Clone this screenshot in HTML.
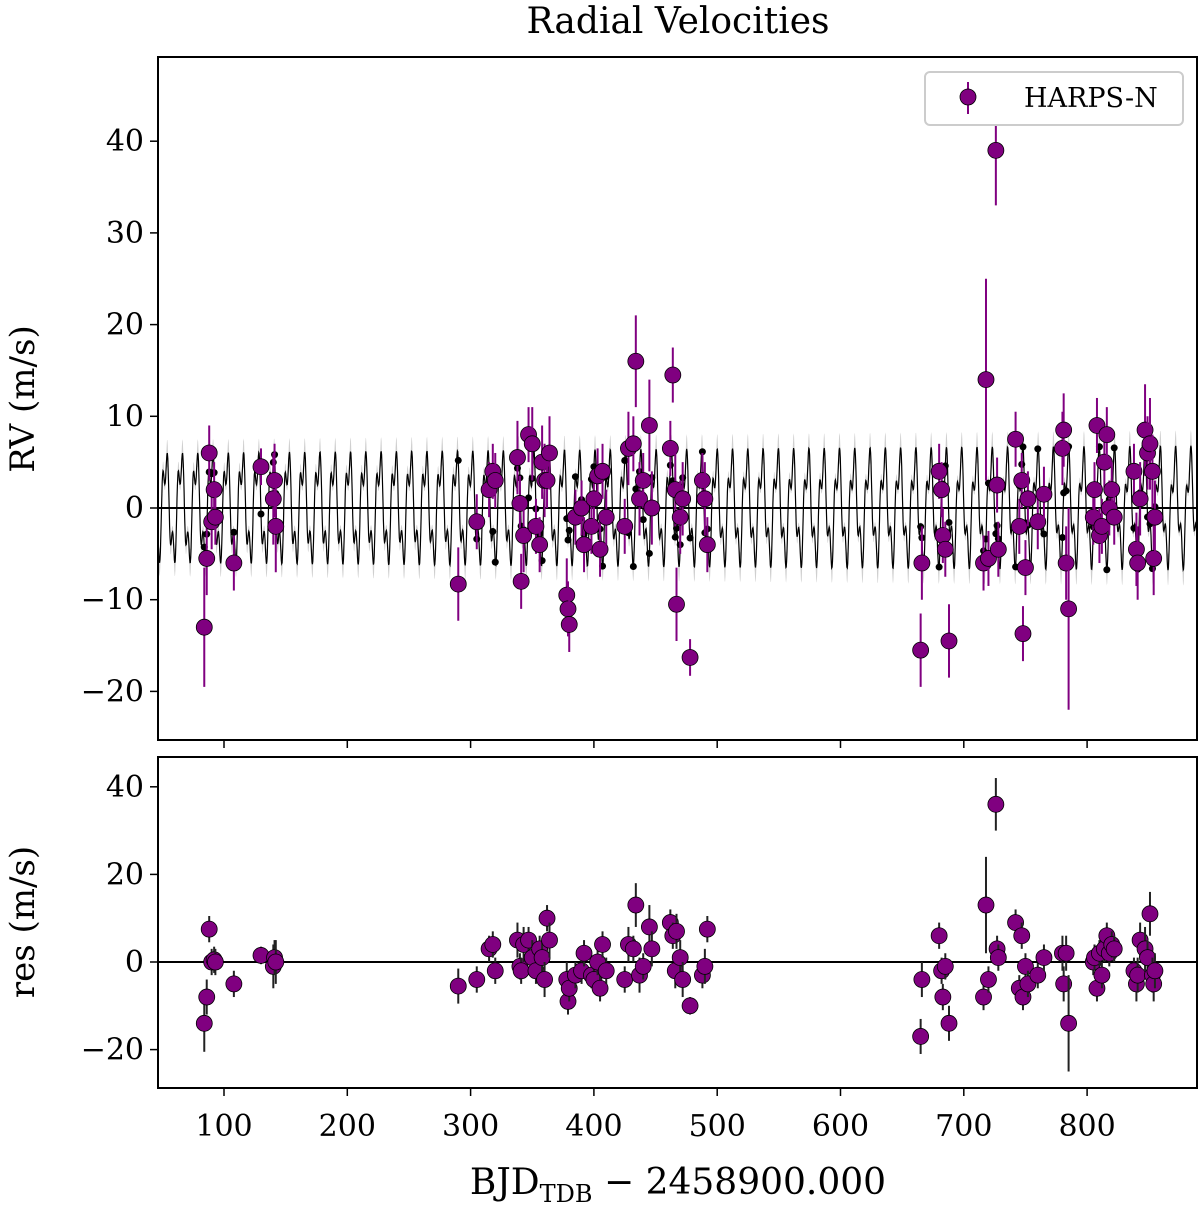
<!DOCTYPE html>
<html><head><meta charset="utf-8"><style>
html,body{margin:0;padding:0;background:#fff}
svg{display:block;font-family:"DejaVu Serif","Liberation Serif",serif}
</style></head><body>
<svg id="c" width="1200" height="1205" xmlns="http://www.w3.org/2000/svg"></svg>
<script>
const times=[84,86,88,90,92,93,108,130,140,141,142,290,305,315,318,320,338,340,341,343,347,350,353,356,358,360,362,364,378,379,380,385,390,392,398,400,403,405,407,410,425,428,432,434,437,440,445,447,462,464,466,467,470,472,478,488,490,492,665,666,680,682,683,685,688,716,718,720,726,727,728,742,745,747,748,750,752,760,765,780,781,783,785,805,806,808,810,812,814,816,818,820,822,838,840,841,843,847,849,851,853,854,855];
const rvs=[-13,-5.5,6,-1.5,2,-1,-6,4.5,1,3,-2,-8.3,-1.5,2,4,3,5.5,0.5,-8,-3,8,7,-2,-4,5,3,3,6,-9.5,-11,-12.7,-1,0,-4,-2,1,3.5,-4.5,4,-1,-2,6.5,7,16,1,3,9,0,6.5,14.5,2,-10.5,-1,1,-16.3,3,1,-4,-15.5,-6,4,2,-3,-4.5,-14.5,-6,14,-5.5,39,2.5,-4.5,7.5,-2,3,-13.7,-6.5,1,-1.5,1.5,6.5,8.5,-6,-11,-1,2,9,-3,-2,5,8,0,2,-1,4,-4.5,-6,1,8.5,6,7,4,-5.5,-1];
const errs=[6.5,4,3,3,3,3,3,2,5,4,5,4,3,3,3,3,4,3,3,4,3,4,3,3,4,4,3,4,4,3,3,3,3,3,3,3,3,3,3,3,3,4,3,5,4,3,5,4,3,3,4,4,4,4,2,3,4,3,4,4,3,3,3,3,4,3,11,3,6,3,3,3,3,3,3,3,3,3,3,4,4,4,11,3,3,3,3,3,3,3,3,3,3,3,4,4,4,5,4,5,4,4,4];
const resids=[-14,-8,7.5,0,0.5,0,-5,1.5,-1,1,0,-5.5,-4,3,4,-2,5,-1,-2,4,5,1,-2,3,1,-4,10,5,-4,-9,-6,-3,-2,2,-3,-4,0,-6,4,-2,-4,4,3,13,-3,-1,8,3,9,6,-2,7,1,-4,-10,-3,-1,7.5,-17,-4,6,-2,-8,-1,-14,-8,13,-4,36,3,1,9,-6,6,-8,-1,-5,-3,1,2,-5,2,-14,0,1,-6,2,-3,3,6,2,4,3,-2,-5,-3,5,3,1,11,-3,-5,-2];
const modelPeriods=[12.4,4.13];
const modelAmps=[5.0,2.2];
const modelBand=[1.5];
const xTicks=[100,200,300,400,500,600,700,800];
const yTicksTop=[-20,-10,0,10,20,30,40];
const yTicksBot=[-20,0,20,40];

const NS="http://www.w3.org/2000/svg";
const svg=document.getElementById('c');
function el(t,a,p){const e=document.createElementNS(NS,t);for(const k in a)e.setAttribute(k,a[k]);(p||svg).appendChild(e);return e;}
const L=158,R=1197,T1=57,B1=740,T2=757,B2=1088;
const X=v=>224+(v-100)*1.2330;
const Y1=v=>508-v*9.17;
const Y2=v=>962-v*4.38;
const model=t=>{let s=0;for(let k=0;k<modelPeriods.length;k++)s+=modelAmps[k]*Math.sin(2*Math.PI*t/modelPeriods[k]+k*0.7);return s;};

const t=el('text',{x:678,y:33,'font-size':36,'text-anchor':'middle'});t.textContent='Radial Velocities';



const defs=el('defs',{});
const cp1=el('clipPath',{id:'cp1'},defs);el('rect',{x:L,y:T1,width:R-L,height:B1-T1},cp1);
const cp2=el('clipPath',{id:'cp2'},defs);el('rect',{x:L,y:T2,width:R-L,height:B2-T2},cp2);

const g1=el('g',{'clip-path':'url(#cp1)'});


let up='',dn='',ln='';
for(let tt=40;tt<=900;tt+=0.3){const m=model(tt);const b=modelBand[0]*Math.abs(m)/6;up+=(up?'L':'M')+X(tt).toFixed(1)+','+Y1(m+b).toFixed(1);ln+=(ln?'L':'M')+X(tt).toFixed(1)+','+Y1(m).toFixed(1);}
for(let tt=900;tt>=40;tt-=0.3){const m=model(tt);const b=modelBand[0]*Math.abs(m)/6;dn+='L'+X(tt).toFixed(1)+','+Y1(m-b).toFixed(1);}
el('path',{d:up+dn+'Z',fill:'#bbb',opacity:0.7},g1);
el('path',{d:ln,fill:'none',stroke:'#000','stroke-width':1.2},g1);
el('line',{x1:L,x2:R,y1:Y1(0),y2:Y1(0),stroke:'#000','stroke-width':2},g1);

for(let i=0;i<times.length;i++){
  const x=X(times[i]);
  const d=el('circle',{cx:x,cy:Y1(model(times[i])),r:3.5,fill:'#000'},g1);
  
  
}
for(let i=0;i<times.length;i++){
  const x=X(times[i]);
  el('line',{x1:x,x2:x,y1:Y1(rvs[i]-errs[i]),y2:Y1(rvs[i]+errs[i]),stroke:'#800080','stroke-width':2},g1);
  const c=el('circle',{cx:x,cy:Y1(rvs[i]),r:8,fill:'#800080',stroke:'#000','stroke-width':0.8},g1);
  
  
}
const g2=el('g',{'clip-path':'url(#cp2)'});


el('line',{x1:L,x2:R,y1:Y2(0),y2:Y2(0),stroke:'#000','stroke-width':2},g2);
for(let i=0;i<times.length;i++){
  const x=X(times[i]);
  el('line',{x1:x,x2:x,y1:Y2(resids[i]-errs[i]),y2:Y2(resids[i]+errs[i]),stroke:'#222','stroke-width':2},g2);
  const c=el('circle',{cx:x,cy:Y2(resids[i]),r:8,fill:'#800080',stroke:'#000','stroke-width':0.8},g2);
  
  
}
const f1=el('rect',{x:L,y:T1,width:R-L,height:B1-T1,fill:'none',stroke:'#000','stroke-width':2});


const f2=el('rect',{x:L,y:T2,width:R-L,height:B2-T2,fill:'none',stroke:'#000','stroke-width':2});


xTicks.forEach(v=>{const x=X(v);
  el('line',{x1:x,x2:x,y1:B1,y2:B1+8,stroke:'#000','stroke-width':1.5});
  el('line',{x1:x,x2:x,y1:B2,y2:B2+8,stroke:'#000','stroke-width':1.5});
  const tx=el('text',{x:x,y:1136,'font-size':30,'text-anchor':'middle'});tx.textContent=v;
  
  
});
yTicksTop.forEach(v=>{const y=Y1(v);
  el('line',{x1:L-8,x2:L,y1:y,y2:y,stroke:'#000','stroke-width':1.5});
  const tx=el('text',{x:L-14,y:y+10,'font-size':30,'text-anchor':'end'});tx.textContent=v<0?'\u2212'+(-v):v;
  
  
});
yTicksBot.forEach(v=>{const y=Y2(v);
  el('line',{x1:L-8,x2:L,y1:y,y2:y,stroke:'#000','stroke-width':1.5});
  const tx=el('text',{x:L-14,y:y+10,'font-size':30,'text-anchor':'end'});tx.textContent=v<0?'\u2212'+(-v):v;
  
  
});
const yl=el('text',{x:0,y:0,'font-size':34,'text-anchor':'middle',transform:'translate(34,399) rotate(-90)'});yl.textContent='RV (m/s)';


const yl2=el('text',{x:0,y:0,'font-size':34,'text-anchor':'middle',transform:'translate(34,922) rotate(-90)'});yl2.textContent='res (m/s)';


const xl=el('text',{x:678,y:1194,'font-size':36,'text-anchor':'middle'});
xl.innerHTML='BJD<tspan font-size="24" dy="8">TDB</tspan><tspan dy="-8"> \u2212 2458900.000</tspan>';


const lg=el('g',{});


el('rect',{x:925,y:72,width:258,height:53,rx:5,fill:'#fff',stroke:'#ccc','stroke-width':2},lg);
el('line',{x1:968,x2:968,y1:82,y2:114,stroke:'#800080','stroke-width':2},lg);
el('circle',{cx:968,cy:97,r:8,fill:'#800080',stroke:'#000','stroke-width':0.8},lg);
const lt=el('text',{x:1024,y:107,'font-size':27},lg);lt.textContent='HARPS-N';
</script>
</body></html>
